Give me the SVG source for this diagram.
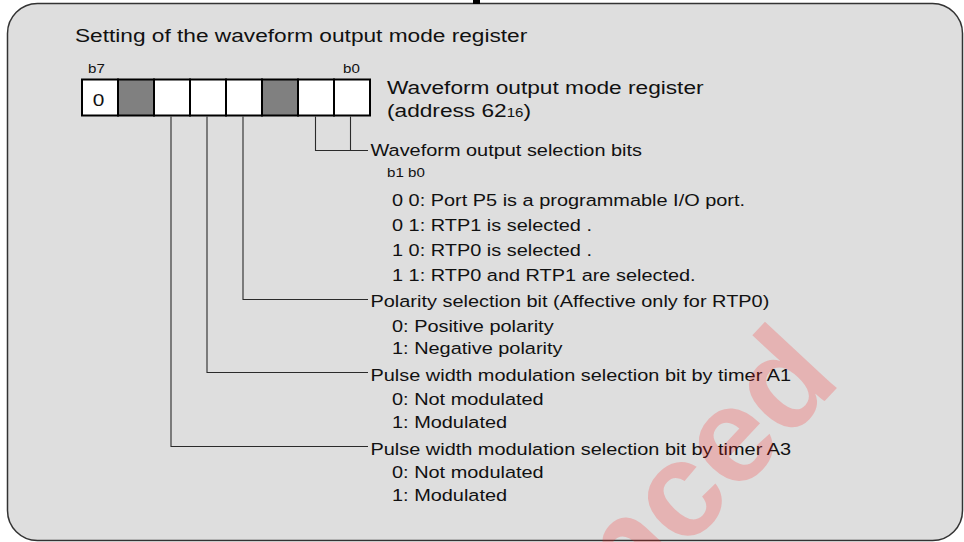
<svg xmlns="http://www.w3.org/2000/svg" width="964" height="542" viewBox="0 0 964 542">
<style>
.t{font-family:"Liberation Sans",Arial,sans-serif;fill:#111}
.big{font-size:18.9px}
.body{font-size:16.6px}
.small{font-size:12.6px}
.cell{stroke:#000;stroke-width:2}
.w{fill:#fff}
.g{fill:#808080}
.conn{fill:none;stroke:#2a2a2a;stroke-width:1.1}
.wm{font-family:"Liberation Sans",Arial,sans-serif;font-weight:bold;font-size:135px;fill:#ff1a1a;fill-opacity:0.22}
</style>
<rect width="964" height="542" fill="#fff"/>
<g id="frame">
<rect x="7.5" y="3.5" width="955" height="537" rx="30" ry="30" fill="#dedede" stroke="#333" stroke-width="1.5"/>
<rect x="473" y="0" width="7" height="4" fill="#000"/>
</g>
<g id="title">
<text class="t big" transform="translate(75 42) scale(1.2 1)">Setting of the waveform output mode register</text>
</g>
<g id="register">
<text class="t small" transform="translate(88 73) scale(1.2 1)">b7</text>
<text class="t small" transform="translate(343 73) scale(1.2 1)">b0</text>
<rect class="cell w" x="82" y="79.5" width="36" height="36"/>
<rect class="cell g" x="118" y="79.5" width="36" height="36"/>
<rect class="cell w" x="154" y="79.5" width="36" height="36"/>
<rect class="cell w" x="190" y="79.5" width="36" height="36"/>
<rect class="cell w" x="226" y="79.5" width="36" height="36"/>
<rect class="cell g" x="262" y="79.5" width="36" height="36"/>
<rect class="cell w" x="298" y="79.5" width="36" height="36"/>
<rect class="cell w" x="334" y="79.5" width="36" height="36"/>
<text class="t" font-size="17.4" text-anchor="middle" transform="translate(98.5 105.5) scale(1.2 1)">0</text>
</g>
<g id="register-label">
<text class="t big" transform="translate(387 94) scale(1.2 1)">Waveform output mode register</text>
<text class="t big" transform="translate(387 117) scale(1.2 1)">(address 62<tspan font-size="12.6px">16</tspan>)</text>
</g>
<g id="connectors">
<path class="conn" d="M315.5 116.5 V150.5 H368"/>
<path class="conn" d="M350.5 116.5 V150.5"/>
<path class="conn" d="M243 116.5 V299.5 H368"/>
<path class="conn" d="M207 116.5 V372.5 H368"/>
<path class="conn" d="M171 116.5 V446.5 H368"/>
</g>
<g id="waveform-bits">
<text class="t body" transform="translate(370.5 155.5) scale(1.2 1)">Waveform output selection bits</text>
<text class="t small" transform="translate(387 177) scale(1.2 1)">b1 b0</text>
<text class="t body" transform="translate(392 205.5) scale(1.2 1)">0 0: Port P5 is a programmable I/O port.</text>
<text class="t body" transform="translate(392 230.5) scale(1.2 1)">0 1: RTP1 is selected .</text>
<text class="t body" transform="translate(392 255.5) scale(1.2 1)">1 0: RTP0 is selected .</text>
<text class="t body" transform="translate(392 280.5) scale(1.2 1)">1 1: RTP0 and RTP1 are selected.</text>
</g>
<g id="polarity-bit">
<text class="t body" transform="translate(370.5 307) scale(1.2 1)">Polarity selection bit (Affective only for RTP0)</text>
<text class="t body" transform="translate(392 331.5) scale(1.2 1)">0: Positive polarity</text>
<text class="t body" transform="translate(392 354) scale(1.2 1)">1: Negative polarity</text>
</g>
<g id="pwm-a1">
<text class="t body" transform="translate(370.5 380.5) scale(1.2 1)">Pulse width modulation selection bit by timer A1</text>
<text class="t body" transform="translate(392 405) scale(1.2 1)">0: Not modulated</text>
<text class="t body" transform="translate(392 427.5) scale(1.2 1)">1: Modulated</text>
</g>
<g id="pwm-a3">
<text class="t body" transform="translate(370.5 454.5) scale(1.2 1)">Pulse width modulation selection bit by timer A3</text>
<text class="t body" transform="translate(392 478) scale(1.2 1)">0: Not modulated</text>
<text class="t body" transform="translate(392 501) scale(1.2 1)">1: Modulated</text>
</g>
<g id="watermark">
<text class="wm" transform="translate(628 612) rotate(-47)">nced</text>
</g>
</svg>
